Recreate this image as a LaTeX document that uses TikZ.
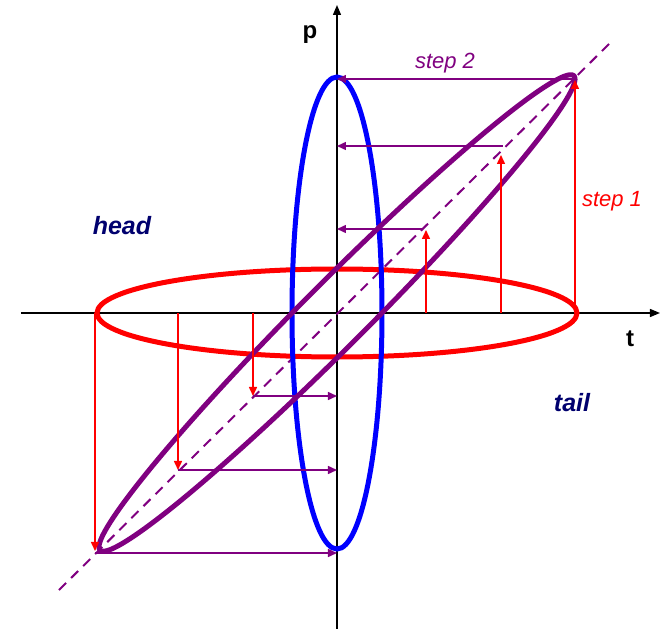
\documentclass[tikz,border=0pt]{standalone}
\usepackage{fontspec}
\setmainfont{Liberation Sans}
\usetikzlibrary{arrows.meta}
\definecolor{pur}{RGB}{128,0,128}
\definecolor{nav}{RGB}{0,0,110}
\begin{document}
\begin{tikzpicture}[x=1pt,y=1pt,
  axis/.style={black,line width=1.3pt,-{Triangle[length=10pt,width=8pt]}},
  redarr/.style={red,line width=1.5pt,-{Triangle[length=9pt,width=8pt]}},
  purarr/.style={pur,line width=1.5pt,-{Triangle[length=9pt,width=8pt]}},
  lbl/.style={font=\fontsize{22}{25}\selectfont\itshape},
  big/.style={font=\fontsize{25}{29}\selectfont\bfseries\itshape,text=nav},
  axlbl/.style={font=\fontsize{24}{28}\selectfont\bfseries}]
\useasboundingbox (-337,-316) rectangle (328,313);
% axes
\coordinate (xs) at (-316,0); \coordinate (xe) at (323,0);
\coordinate (ys) at (0,-316); \coordinate (ye) at (0,308);
\draw[axis] (xs) -- (xe);
\draw[axis] (ys) -- (ye);
% dashed diagonal
\coordinate (ds) at (-278,-277); \coordinate (de) at (274,271);
\draw[pur,line width=2pt,dash pattern=on 10pt off 7pt] (ds) -- (de);
% ellipses
\draw[red,line width=5pt] (0,0) ellipse [x radius=240, y radius=44];
\draw[blue,line width=5pt] (0,0) ellipse [x radius=45, y radius=236];
\draw[pur,line width=5pt] plot[domain=0:360,samples=240,smooth cycle] ({238*cos(\x)},{45*sin(\x)+0.983*238*cos(\x)});
% red arrows (step 1)
\foreach \n/\t/\p in {1/238/233,2/164/158,3/89/83,4/-242/-238,5/-159/-157,6/-84/-83}{
  \coordinate (rs\n) at (\t,0);
  \coordinate (re\n) at (\t,\p);
  \draw[redarr] (rs\n) -- (re\n);
}
% purple arrows (step 2)
\foreach \n/\t/\p in {1/236/234,2/166/167,3/85/84,4/-242/-240,5/-159/-157,6/-84/-83}{
  \coordinate (ps\n) at (\t,\p);
  \coordinate (pe\n) at (0,\p);
  \draw[purarr] (ps\n) -- (pe\n);
}
% labels
\node[axlbl] (lp) at (-27,278) {p};
\node[axlbl] (lt) at (293,-26) {t};
\node[big] (head) at (-215,87) {head};
\node[big] (tail) at (235,-90) {tail};
\node[lbl,text=pur] (s2) at (108,250) {step 2};
\node[lbl,text=red] (s1) at (275,112) {step 1};
\end{tikzpicture}
\end{document}
